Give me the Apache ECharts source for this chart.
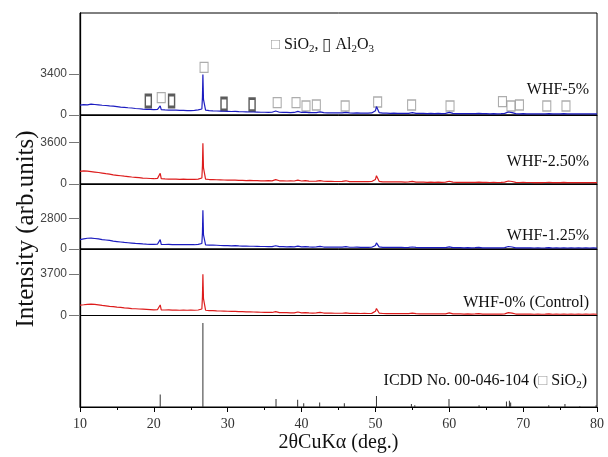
<!DOCTYPE html>
<html>
<head>
<meta charset="utf-8">
<script src="https://cdn.jsdelivr.net/npm/echarts@6/dist/echarts.min.js"></script>
<style>
  html, body { margin: 0; padding: 0; background: #fff; }
  #chart { width: 608px; height: 457px; }
</style>
</head>
<body>
<div id="chart"></div>
<script>
// 2theta sampling of the patterns (deg.)
const START = 10;
const STEP = 0.5;

// intensities, 10.0 .. 80.0 deg. every 0.5 deg.
const whf5 = [
  820, 860, 840, 900, 870, 840, 810, 790, 760, 740,
  700, 660, 630, 600, 580, 540, 520, 490, 470, 460,
  440, 470, 450, 420, 410, 400, 410, 390, 380, 370,
  360, 380, 420, 500, 400, 360, 340, 330, 320, 310,
  300, 290, 300, 280, 270, 260, 250, 250, 240, 230,
  230, 220, 230, 330, 230, 210, 210, 200, 210, 300,
  210, 240, 200, 190, 200, 260, 190, 180, 180, 170,
  180, 170, 220, 170, 160, 170, 160, 150, 160, 170,
  350, 200, 150, 150, 140, 150, 140, 140, 130, 140,
  190, 140, 130, 130, 120, 130, 120, 130, 120, 130,
  220, 130, 120, 120, 110, 120, 110, 120, 140, 110,
  110, 100, 110, 100, 110, 130, 250, 200, 110, 100,
  110, 100, 100, 90, 100, 90, 100, 120, 90, 100,
  90, 110, 90, 100, 90, 100, 90, 100, 90, 100,
  90
];
const whf5Peaks = [[20.86, 760], [26.58, 1500], [26.64, 3350], [26.72, 1300], [50.14, 700]];

const whf250 = [
  1100, 1150, 1120, 1080, 1040, 1000, 950, 900, 860, 800,
  760, 720, 680, 650, 610, 580, 550, 520, 500, 480,
  460, 490, 470, 440, 430, 420, 430, 410, 420, 400,
  410, 400, 430, 520, 420, 390, 380, 370, 360, 350,
  340, 330, 340, 320, 310, 300, 310, 290, 300, 280,
  280, 290, 270, 380, 280, 270, 260, 270, 260, 340,
  260, 290, 250, 240, 250, 300, 240, 230, 240, 220,
  220, 230, 280, 210, 210, 220, 200, 210, 200, 220,
  400, 230, 190, 190, 180, 190, 180, 180, 170, 180,
  230, 170, 160, 170, 150, 160, 150, 160, 150, 160,
  240, 160, 150, 150, 140, 150, 140, 150, 170, 140,
  140, 130, 140, 130, 140, 160, 260, 220, 140, 130,
  140, 130, 130, 120, 130, 120, 130, 150, 120, 130,
  120, 140, 120, 130, 120, 130, 120, 130, 120, 130,
  120
];
const whf250Peaks = [[20.86, 930], [26.58, 1600], [26.64, 3550], [26.72, 1400], [50.14, 720]];

const whf125 = [
  860, 920, 980, 1000, 960, 920, 860, 820, 780, 720,
  680, 640, 600, 570, 540, 510, 490, 460, 440, 430,
  420, 450, 430, 410, 420, 400, 410, 390, 400, 390,
  400, 390, 420, 500, 380, 360, 350, 340, 320, 310,
  300, 290, 300, 280, 270, 260, 250, 250, 240, 230,
  230, 220, 210, 300, 220, 210, 200, 210, 200, 270,
  200, 220, 190, 180, 190, 240, 180, 170, 180, 170,
  170, 170, 210, 160, 160, 170, 150, 160, 150, 160,
  320, 190, 150, 150, 140, 150, 140, 140, 130, 140,
  180, 140, 130, 130, 120, 130, 120, 130, 120, 130,
  200, 130, 120, 120, 110, 120, 110, 120, 140, 110,
  110, 100, 110, 100, 110, 130, 230, 180, 110, 100,
  110, 100, 100, 90, 100, 90, 100, 120, 90, 100,
  90, 110, 90, 100, 90, 100, 90, 100, 90, 100,
  90
];
const whf125Peaks = [[20.86, 860], [26.58, 1500], [26.64, 3530], [26.72, 1300], [50.14, 560]];

const whf0 = [
  930, 960, 1000, 1010, 990, 950, 900, 860, 820, 790,
  750, 720, 680, 650, 620, 600, 580, 560, 540, 520,
  500, 530, 510, 490, 500, 480, 490, 470, 480, 470,
  480, 470, 490, 580, 470, 440, 430, 410, 400, 390,
  380, 370, 360, 350, 340, 330, 320, 310, 300, 290,
  280, 270, 270, 350, 260, 250, 250, 240, 240, 310,
  240, 260, 230, 220, 230, 280, 220, 210, 210, 200,
  200, 200, 240, 190, 190, 200, 180, 190, 180, 190,
  380, 220, 180, 170, 170, 170, 160, 160, 160, 160,
  210, 160, 150, 150, 140, 150, 140, 150, 140, 150,
  230, 150, 140, 140, 130, 140, 130, 140, 160, 130,
  130, 120, 130, 120, 130, 150, 260, 210, 130, 120,
  130, 120, 120, 110, 120, 110, 120, 140, 110, 120,
  110, 130, 110, 120, 110, 120, 110, 120, 110, 120,
  110
];
const whf0Peaks = [[20.86, 940], [26.58, 1700], [26.64, 3680], [26.72, 1500], [50.14, 620]];

// ICDD 00-046-104 reference lines (relative intensity)
const icddAngles = [20.86, 26.64, 36.54, 39.47, 40.29, 42.45, 45.79, 50.14, 54.87, 55.33, 59.96, 64.03, 67.74, 68.14, 68.31, 73.47, 75.66, 77.67, 79.88];
const icddInt = [15, 100, 9.5, 8.5, 4.5, 5.5, 4.5, 13, 3.5, 2, 9.5, 2, 6.5, 7.5, 5.5, 2, 3.5, 1, 2];

// phase markers above the WHF-5% pattern [2theta, height]
const sio2Marks = [[21.0, 1435], [26.8, 3955], [36.7, 1020], [39.25, 1020], [40.6, 746], [42.0, 829], [45.9, 746], [50.3, 1078], [54.9, 829], [60.1, 746], [67.2, 1103], [68.35, 746], [69.5, 829], [73.2, 746], [75.8, 746]];
const al2o3Marks = [[19.25, 1161], [22.4, 1161], [29.5, 912], [33.3, 854]];

// y axis tick labels of each panel, top to bottom
const yTicks = [3400, 3600, 2800, 3700];
const yMax = [8459, 6015, 5928, 5929, 109];
const sampleNames = ["WHF-5%", "WHF-2.50%", "WHF-1.25%", "WHF-0% (Control)"];

function build(base, peaks) {
  let pts = base.map((v, i) => [START + i * STEP, v]);
  return pts.concat(peaks).sort((a, b) => a[0] - b[0]);
}

const serif = '"Liberation Serif", "Times New Roman", serif';
const sans = '"Liberation Sans", Arial, sans-serif';

const grids = [
  { top: 13, height: 102 },
  { top: 115, height: 69 },
  { top: 184, height: 65 },
  { top: 249, height: 66.5 },
  { top: 315.5, height: 91.5 },
].map((g) => ({
  left: 80, right: 11, top: g.top, height: g.height,
  show: true, borderColor: "#000", borderWidth: 1, backgroundColor: "transparent",
}));

const xAxes = grids.map((g, i) => {
  let last = i === grids.length - 1;
  return {
    type: "value", gridIndex: i, min: 10, max: 80, interval: 10,
    axisLine: { show: true, lineStyle: { color: "#000", width: 1 } },
    axisTick: { show: last, length: 5, lineStyle: { color: "#000" } },
    minorTick: { show: last, splitNumber: 2, length: 3, lineStyle: { color: "#000" } },
    axisLabel: { show: last, margin: 10, color: "#333", fontFamily: serif, fontSize: 14 },
    splitLine: { show: false },
    name: last ? "2θCuKα (deg.)" : "",
    nameLocation: "middle", nameGap: 26,
    nameTextStyle: { fontFamily: serif, fontSize: 20, color: "#111" },
  };
});

const yAxes = yMax.map((m, i) => {
  let hasTicks = i < yTicks.length;
  return {
    type: "value", gridIndex: i, min: 0, max: m,
    axisLine: { show: true, lineStyle: { color: "#000", width: 1.3 } },
    axisTick: {
      show: hasTicks, length: 11, lineStyle: { color: "#777" },
      customValues: hasTicks ? [0, yTicks[i]] : [],
    },
    axisLabel: {
      show: hasTicks, margin: 13, color: "#444", fontFamily: sans, fontSize: 12,
      customValues: hasTicks ? [0, yTicks[i]] : [],
      formatter: (v) => String(v),
    },
    splitLine: { show: false },
  };
});

const patterns = [
  build(whf5, whf5Peaks),
  build(whf250, whf250Peaks),
  build(whf125, whf125Peaks),
  build(whf0, whf0Peaks),
];
const colors = ["#1c1cc0", "#dd1c1c", "#1c1cc0", "#dd1c1c"];

const series = patterns.map((d, i) => ({
  type: "line", xAxisIndex: i, yAxisIndex: i, data: d,
  showSymbol: false, symbol: "none",
  lineStyle: { color: colors[i], width: 1.2 },
}));

series.push({
  type: "bar", xAxisIndex: 4, yAxisIndex: 4, barWidth: 1,
  data: icddAngles.map((a, i) => [a, icddInt[i]]),
  itemStyle: { color: "#333" },
});

series.push({
  type: "scatter", xAxisIndex: 0, yAxisIndex: 0, data: sio2Marks,
  symbol: "rect", symbolSize: [8, 10],
  itemStyle: { color: "#fff", borderColor: "#999", borderWidth: 1.2 },
});
series.push({
  type: "scatter", xAxisIndex: 0, yAxisIndex: 0, data: al2o3Marks,
  symbol: "rect", symbolSize: [6, 12],
  itemStyle: { color: "#fff", borderColor: "#333", borderWidth: 2 },
});

const labelY = [81, 153, 227, 294];
const titles = sampleNames.map((n, i) => ({
  text: n, right: 19, top: labelY[i], padding: 0,
  textStyle: { fontFamily: serif, fontSize: 16, fontWeight: "normal", color: "#111", lineHeight: 18 },
}));

const rich = {
  t: { fontFamily: serif, fontSize: 16, fontWeight: "normal", color: "#111", lineHeight: 20 },
  s: { fontSize: 15, fontWeight: "normal", color: "#999", lineHeight: 20 },
  d: { fontSize: 17, fontWeight: "normal", color: "#333", lineHeight: 20 },
  sub: { fontFamily: serif, fontSize: 11, fontWeight: "normal", color: "#111", lineHeight: 10, verticalAlign: "bottom" },
};

titles.push({
  text: "{s|□}{t| SiO}{sub|2}{t|, }{d|▯}{t| Al}{sub|2}{t|O}{sub|3}",
  left: 271, top: 35, padding: 0,
  textStyle: { rich: rich, fontWeight: "normal" },
});
titles.push({
  text: "{t|ICDD No. 00-046-104 (}{s|□}{t| SiO}{sub|2}{t|)}",
  right: 21, top: 371, padding: 0,
  textStyle: { rich: rich, fontWeight: "normal" },
});

const chart = echarts.init(document.getElementById("chart"));
chart.setOption({
  animation: false,
  backgroundColor: "#fff",
  title: titles,
  grid: grids,
  xAxis: xAxes,
  yAxis: yAxes,
  series: series,
  graphic: [{
    type: "text", x: 26, y: 229, rotation: Math.PI / 2,
    style: {
      text: "Intensity (arb.units)", font: '25px "Liberation Serif"',
      fill: "#111", textAlign: "center", textVerticalAlign: "middle",
    },
  }],
});
</script>
</body>
</html>
